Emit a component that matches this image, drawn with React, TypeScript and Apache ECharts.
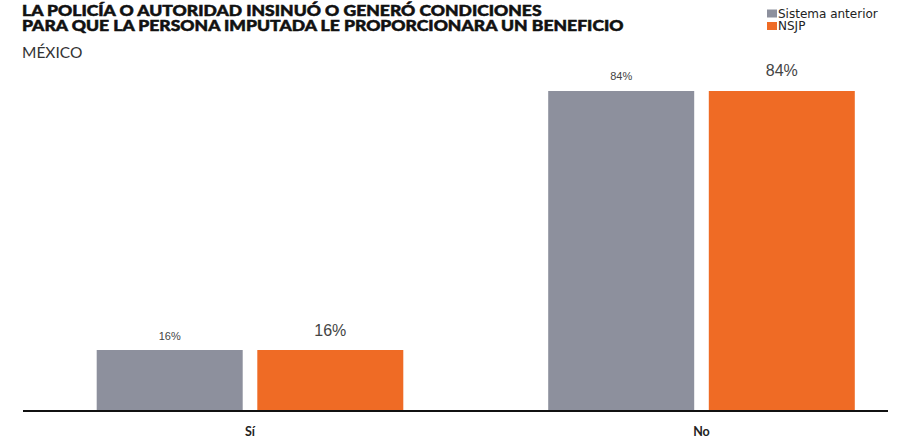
import React, { useEffect, useRef } from "react";
import * as echarts from "echarts";

const categories = ["Sí", "No"];
const seriesNames = ["Sistema anterior", "NSJP"];
const sistemaAnterior = [16, 84];
const nsjp = [16, 84];
const titleLines = [
  "LA POLICÍA O AUTORIDAD INSINUÓ O GENERÓ CONDICIONES",
  "PARA QUE LA PERSONA IMPUTADA LE PROPORCIONARA UN BENEFICIO",
];
const subtitle = "MÉXICO";

export default function App() {
  const ref = useRef<HTMLDivElement>(null);
  useEffect(() => {
    if (!ref.current) return;
    const chart = echarts.init(ref.current, undefined, { renderer: "svg" });
    const titleFont = {
      fontFamily: "Lato",
      fontWeight: 900,
      fontSize: 15,
      fill: "#111111",
      stroke: "#111111",
      lineWidth: 0.5,
      textVerticalAlign: "middle",
    };
    chart.setOption({
      animation: false,
      backgroundColor: "#ffffff",
      legend: {
        orient: "vertical",
        left: 762,
        top: 2.5,
        itemWidth: 10,
        itemHeight: 8,
        itemGap: 0.5,
        icon: "rect",
        data: seriesNames,
        textStyle: {
          fontFamily: "DejaVu Sans",
          fontSize: 12,
          lineHeight: 12,
          color: "#222222",
          padding: [0, 0, 0, -4],
        },
      },
      grid: { left: 250, right: 198.5, top: 30, height: 381 },
      xAxis: {
        type: "category",
        data: categories,
        boundaryGap: false,
        axisLine: { show: false },
        axisTick: { show: false },
        splitLine: { show: false },
        axisLabel: {
          margin: 14,
          fontFamily: "Lato",
          fontWeight: "bold",
          fontSize: 12.5,
          color: "#222222",
        },
      },
      yAxis: { type: "value", min: 0, max: 100, show: false, splitLine: { show: false } },
      graphic: [
        {
          type: "text",
          x: 22,
          y: 10.5,
          scaleX: 1.17,
          style: { text: titleLines[0], ...titleFont },
        },
        {
          type: "text",
          x: 22,
          y: 25.5,
          scaleX: 1.17,
          style: { text: titleLines[1], ...titleFont },
        },
        {
          type: "text",
          x: 22,
          y: 52,
          style: {
            text: subtitle,
            fontFamily: "Lato",
            fontWeight: "normal",
            fontSize: 15.5,
            fill: "#333333",
            textVerticalAlign: "middle",
          },
        },
        {
          type: "line",
          shape: { x1: 23, y1: 411, x2: 888, y2: 411 },
          style: { stroke: "#111111", lineWidth: 2 },
          z: 10,
        },
      ],
      series: [
        {
          name: seriesNames[0],
          type: "bar",
          data: sistemaAnterior,
          barWidth: 146,
          barGap: "10%",
          clip: false,
          itemStyle: { color: "#8d909d" },
          label: {
            show: true,
            position: "top",
            distance: 9,
            formatter: "{c}%",
            fontFamily: "Liberation Sans",
            fontSize: 11,
            color: "#444444",
          },
        },
        {
          name: seriesNames[1],
          type: "bar",
          data: nsjp,
          barWidth: 146,
          barGap: "10%",
          clip: false,
          itemStyle: { color: "#ef6b25" },
          label: {
            show: true,
            position: "top",
            distance: 12,
            formatter: "{c}%",
            fontFamily: "Liberation Sans",
            fontSize: 16,
            color: "#444444",
          },
        },
      ],
    });
    return () => chart.dispose();
  }, []);
  return (
    <div
      ref={ref}
      style={{ position: "fixed", left: 0, top: 0, width: 900, height: 442 }}
    />
  );
}
